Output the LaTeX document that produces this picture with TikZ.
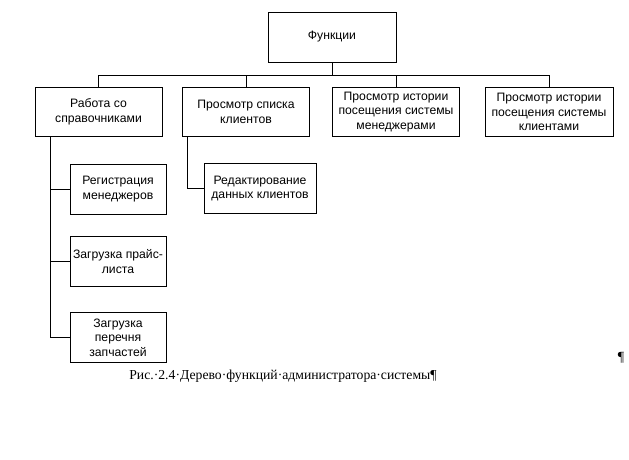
\documentclass[tikz,border=0pt]{standalone}
\usepackage{fontspec}
\setmainfont{Liberation Serif}
\newfontfamily\boxfont{Liberation Sans}
\usetikzlibrary{positioning}

\tikzset{
    func/.style={draw, rectangle, align=center, inner sep=0pt,
        font=\boxfont\fontsize{12.2}{14.5}\selectfont},
    lvl/.style={func, minimum width=127pt, minimum height=49pt},
    sub/.style={func, minimum width=96pt, minimum height=50pt}
}

\begin{document}
\begin{tikzpicture}[x=1pt, y=-1pt, line width=0.8pt]
        \useasboundingbox (0,0) rectangle (629,460);

        \node[func, minimum width=128pt, minimum height=50pt] (root) at (332,37) {Функции};

        \node[lvl] (spr) at (98.5,112) {Работа со\\справочниками};
        \node[lvl] (cli) at (246,112) {Просмотр списка\\клиентов};
        \node[lvl] (hman) at (396,112) {Просмотр истории\\посещения системы\\менеджерами};
        \node[lvl, minimum width=128pt] (hcli) at (549,112) {Просмотр истории\\посещения системы\\клиентами};

        \node[sub] (reg) at (118,189) {Регистрация\\менеджеров};
        \node[sub] (price) at (118,261.5) {Загрузка прайс-\\листа};
        \node[sub] (parts) at (118,337.5) {Загрузка\\перечня\\запчастей};
        \node[sub, minimum width=112pt] (edit) at (260,188.5) {Редактирование\\данных клиентов};

        \draw (root.south) -- ++(0,13) -| (spr.north);
        \draw (root.south) -- ++(0,13) -| (cli.north);
        \draw (root.south) -- ++(0,13) -| (hman.north);
        \draw (root.south) -- ++(0,13) -| (hcli.north);

        \draw ([xshift=16pt]spr.south west) |- (reg.west);
        \draw ([xshift=16pt]spr.south west) |- (price.west);
        \draw ([xshift=16pt]spr.south west) |- (parts.west);
        \draw ([xshift=5pt]cli.south west) |- (edit.west);

        \node[font=\fontsize{13.7}{16}\selectfont] (cap) at (283,376) {Рис.·2.4·Дерево·функций·администратора·системы¶};
        \node[font=\fontsize{14}{16}\selectfont] (pil) at (621,358) {¶};

    \end{tikzpicture}
\end{document}
